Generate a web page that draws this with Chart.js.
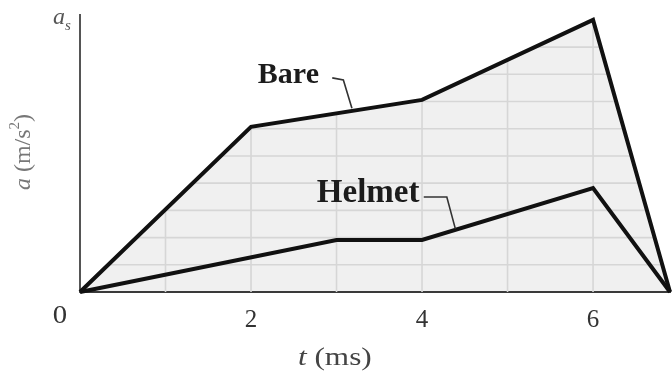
<!DOCTYPE html>
<html>
<head>
<meta charset="utf-8">
<script src="https://cdn.jsdelivr.net/npm/chart.js@4.4.1/dist/chart.umd.min.js"></script>
<style>
  html, body { margin: 0; padding: 0; background: #fff; }
  #wrap { width: 672px; height: 371px; }
</style>
</head>
<body>
<div id="wrap"><canvas id="c" width="672" height="371"></canvas></div>
<script>
// Head acceleration pulse, bare head vs. helmeted (a in units of peak a_s, t in ms)
const bareTimes   = [0, 2, 4, 6, 6.9];
const bareAccel   = [0, 0.607, 0.706, 1.0, 0];
const helmetTimes = [0, 3, 4, 6, 6.9];
const helmetAccel = [0, 0.191, 0.191, 0.382, 0];

const xTickValues = [2, 4, 6];
const xAxisMax = 6.9;
const yAxisMax = 1.018;

// graph-paper lines shown inside the shaded pulse
const paperLinesT = [1, 2, 3, 4, 5, 6];
const paperLinesA = [0.1, 0.2, 0.3, 0.4, 0.5, 0.6, 0.7, 0.8, 0.9, 1.0];

// curve labels: text, anchor [t, a], leader polyline [[t, a], ...]
const curveLabels = [
  { text: 'Bare',   at: [2.08, 0.798], size: 30,
    leader: [[2.95, 0.787], [3.08, 0.779], [3.18, 0.675]] },
  { text: 'Helmet', at: [2.77, 0.362], size: 33,
    leader: [[4.02, 0.349], [4.29, 0.349], [4.39, 0.232]] }
];

const toXY = (ts, as) => ts.map((t, i) => ({ x: t, y: as[i] }));

const SERIF = '"Liberation Serif", "DejaVu Serif", serif';

const paperGrid = {
  id: 'paperGrid',
  beforeDatasetsDraw(chart) {
    const { ctx, scales: { x, y } } = chart;
    const pts = chart.getDatasetMeta(0).data;
    const base = y.getPixelForValue(0);
    ctx.save();
    ctx.beginPath();
    ctx.moveTo(pts[0].x, base);
    pts.forEach(p => ctx.lineTo(p.x, p.y));
    ctx.lineTo(pts[pts.length - 1].x, base);
    ctx.closePath();
    ctx.clip();
    ctx.strokeStyle = '#d6d6d6';
    ctx.lineWidth = 1.6;
    paperLinesT.forEach(t => {
      const px = x.getPixelForValue(t);
      ctx.beginPath(); ctx.moveTo(px, y.top); ctx.lineTo(px, base); ctx.stroke();
    });
    paperLinesA.forEach(a => {
      const py = y.getPixelForValue(a);
      ctx.beginPath(); ctx.moveTo(x.left, py); ctx.lineTo(x.right, py); ctx.stroke();
    });
    ctx.restore();
  }
};

// draws a sequence of text runs (mixed italic / roman / superscript) on one line
function drawRuns(ctx, runs, x, y, align, stretch = 1) {
  let total = 0;
  runs.forEach(r => { ctx.font = r.font; r.w = ctx.measureText(r.text).width; total += r.w; });
  ctx.save();
  ctx.translate(x, y);
  ctx.scale(stretch, 1);
  let cx = align === 'center' ? -total / 2 : 0;
  runs.forEach(r => {
    ctx.font = r.font;
    ctx.fillText(r.text, cx, r.dy || 0);
    cx += r.w;
  });
  ctx.restore();
}

const annotations = {
  id: 'annotations',
  afterDatasetsDraw(chart) {
    const { ctx, scales: { x, y } } = chart;
    ctx.save();
    ctx.textBaseline = 'middle';
    ctx.textAlign = 'left';

    // origin label
    ctx.fillStyle = '#333';
    drawRuns(ctx, [{ text: '0', font: `25px ${SERIF}` }],
      x.getPixelForValue(0) - 20, y.bottom + 24, 'center', 1.15);

    // peak marker a_s at the top of the axis
    ctx.fillStyle = '#555';
    drawRuns(ctx, [
      { text: 'a', font: `italic 24px ${SERIF}` },
      { text: 's', font: `italic 15px ${SERIF}`, dy: 8 }
    ], x.left - 27, y.top + 3, 'left');

    // axis titles
    ctx.fillStyle = '#444';
    drawRuns(ctx, [
      { text: 't', font: `italic 25px ${SERIF}` },
      { text: ' (ms)', font: `25px ${SERIF}` }
    ], x.getPixelForValue(2.98), y.bottom + 66, 'center', 1.25);

    ctx.save();
    ctx.translate(24, 152);
    ctx.rotate(-Math.PI / 2);
    ctx.fillStyle = '#777';
    drawRuns(ctx, [
      { text: 'a', font: `italic 24px ${SERIF}` },
      { text: ' (m/s', font: `24px ${SERIF}` },
      { text: '2', font: `15px ${SERIF}`, dy: -9 },
      { text: ')', font: `24px ${SERIF}` }
    ], 0, 0, 'center');
    ctx.restore();

    // curve labels with leader lines
    curveLabels.forEach(l => {
      ctx.fillStyle = '#1c1c1c';
      ctx.font = `bold ${l.size}px ${SERIF}`;
      ctx.fillText(l.text, x.getPixelForValue(l.at[0]), y.getPixelForValue(l.at[1]));
      ctx.strokeStyle = '#333';
      ctx.lineWidth = 1.6;
      ctx.beginPath();
      l.leader.forEach(([t, a], i) => {
        const px = x.getPixelForValue(t), py = y.getPixelForValue(a);
        if (i === 0) ctx.moveTo(px, py); else ctx.lineTo(px, py);
      });
      ctx.stroke();
    });
    ctx.restore();
  }
};

new Chart(document.getElementById('c'), {
  type: 'line',
  data: {
    datasets: [
      {
        label: 'Bare',
        data: toXY(bareTimes, bareAccel),
        borderColor: '#111',
        borderWidth: 4,
        backgroundColor: '#f0f0f0',
        fill: 'origin',
        pointRadius: 0,
        tension: 0,
        borderJoinStyle: 'miter',
        clip: 10
      },
      {
        label: 'Helmet',
        data: toXY(helmetTimes, helmetAccel),
        borderColor: '#111',
        borderWidth: 4,
        fill: false,
        pointRadius: 0,
        tension: 0,
        borderJoinStyle: 'miter',
        clip: 10
      }
    ]
  },
  options: {
    responsive: false,
    animation: false,
    events: [],
    layout: { padding: { top: 15, right: 2, left: 0, bottom: 0 } },
    plugins: {
      legend: { display: false },
      tooltip: { enabled: false },
      filler: { drawTime: 'beforeDraw' }
    },
    scales: {
      x: {
        type: 'linear',
        min: 0,
        max: xAxisMax,
        afterBuildTicks: s => { s.ticks = xTickValues.map(v => ({ value: v })); },
        afterFit: s => { s.height = 79; },
        grid: { display: false },
        border: { display: true, color: '#3a3a3a', width: 2 },
        ticks: {
          autoSkip: false,
          maxRotation: 0,
          padding: 5,
          color: '#333',
          font: { family: SERIF, size: 25 }
        }
      },
      y: {
        type: 'linear',
        min: 0,
        max: yAxisMax,
        afterFit: s => { s.width = 80; },
        grid: { display: false },
        border: { display: true, color: '#555', width: 2 },
        ticks: { display: false }
      }
    }
  },
  plugins: [paperGrid, annotations]
});
</script>
</body>
</html>
